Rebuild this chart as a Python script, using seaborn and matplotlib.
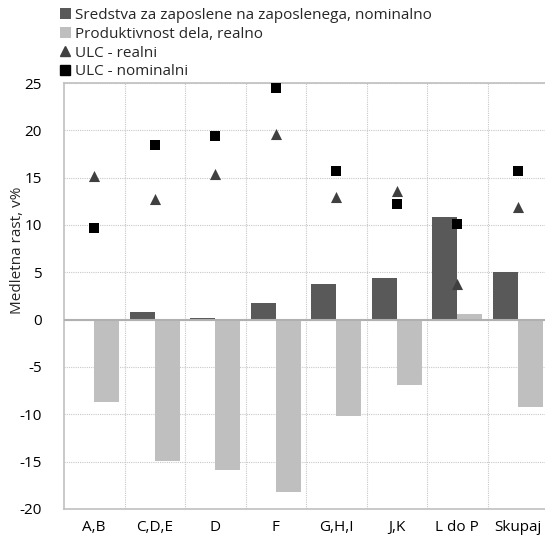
import matplotlib
matplotlib.use("Agg")
import matplotlib.pyplot as plt
from matplotlib.lines import Line2D
from matplotlib.patches import Patch
import seaborn as sns
import pandas as pd
import numpy as np

categories = ["A,B", "C,D,E", "D", "F", "G,H,I", "J,K", "L do P", "Skupaj"]
sredstva = [0.0, 0.8, 0.2, 1.8, 3.8, 4.4, 10.8, 5.0]
produktivnost = [-8.7, -14.9, -15.9, -18.2, -10.2, -6.9, 0.6, -9.2]
ulc_realni = [15.2, 12.7, 15.4, 19.6, 13.0, 13.6, 3.8, 11.9]
ulc_nominalni = [9.7, 18.5, 19.4, 24.5, 15.7, 12.2, 10.1, 15.7]
series_names = ["Sredstva za zaposlene na zaposlenega, nominalno",
                "Produktivnost dela, realno", "ULC - realni", "ULC - nominalni"]
yticks = [-20, -15, -10, -5, 0, 5, 10, 15, 20, 25]

sns.set_style("white")
plt.rcParams['font.family'] = ['Open Sans', 'DejaVu Sans']
FS = 11

bars = pd.DataFrame({
    "cat": categories * 2,
    "val": sredstva + produktivnost,
    "series": [series_names[0]] * len(categories) + [series_names[1]] * len(categories),
})
pts = pd.DataFrame({"cat": categories, "real": ulc_realni, "nom": ulc_nominalni})

fig = plt.figure(figsize=(5.45, 5.41), dpi=100)
ax = fig.add_axes([64 / 545, 1 - 509 / 541, (548 - 64) / 545, (509 - 83) / 541])

sns.barplot(data=bars, x="cat", y="val", hue="series", order=categories,
            palette=["#595959", "#bfbfbf"], width=0.82, saturation=1,
            errorbar=None, ax=ax, legend=False, linewidth=0)
sns.stripplot(data=pts, x="cat", y="real", order=categories, jitter=False,
              marker="^", color="#404040", size=8, linewidth=0, ax=ax, zorder=5)
sns.stripplot(data=pts, x="cat", y="nom", order=categories, jitter=False,
              marker="s", color="#000000", size=7, linewidth=0, ax=ax, zorder=5)

ax.set_ylim(-20, 25)
ax.set_xlim(-0.5, len(categories) - 0.5)
ax.set_yticks(yticks)
ax.set_yticklabels([str(t) for t in yticks])
ax.set_xticks(np.arange(len(categories)), categories)
ax.set_xticks(np.arange(len(categories) - 1) + 0.5, minor=True)
ax.tick_params(axis="both", which="both", length=0, labelsize=FS, colors="#000000")
ax.tick_params(axis="y", pad=16)
ax.tick_params(axis="x", pad=8)
ax.grid(axis="y", which="major", linestyle=(0, (1, 1)), color="#c8c8c8", linewidth=0.8)
ax.grid(axis="x", which="minor", linestyle=(0, (1, 1)), color="#c8c8c8", linewidth=0.8)
ax.set_axisbelow(True)
ax.axhline(0, color="#b0b0b0", linewidth=1.5, zorder=3)
for s in ax.spines.values():
    s.set_color("#c0c0c0")
    s.set_linewidth(1.2)
ax.set_xlabel("")
ax.set_ylabel("Medletna rast, v%", fontsize=FS)
ax.yaxis.set_label_coords((25 - 64) / 484, (509 - 250) / 426)

handles = [
    Patch(facecolor="#595959", edgecolor="none"),
    Patch(facecolor="#bfbfbf", edgecolor="none"),
    Line2D([], [], marker="^", color="#404040", linestyle="none", markersize=7),
    Line2D([], [], marker="s", color="#000000", linestyle="none", markersize=7),
]
fig.legend(handles, series_names, loc="upper left", bbox_to_anchor=(60 / 545, 1 - 8 / 541),
           frameon=False, fontsize=FS, handlelength=0.7, handleheight=0.7,
           handletextpad=0.3, labelspacing=0.25, borderpad=0, borderaxespad=0)

fig.savefig("out.png", dpi=100)
